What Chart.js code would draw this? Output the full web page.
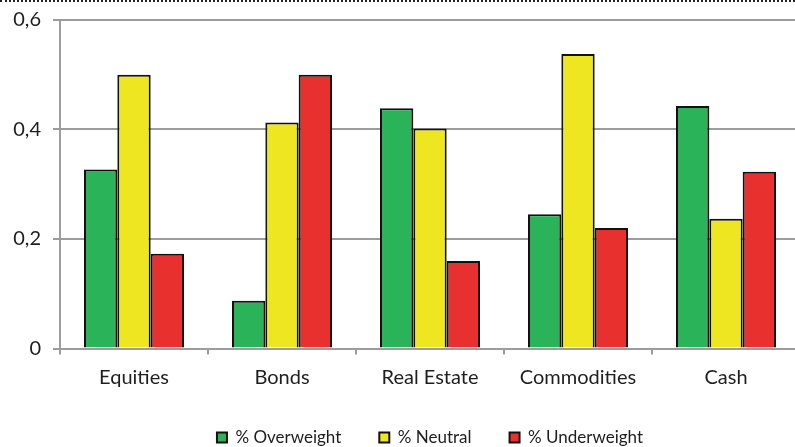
<!DOCTYPE html>
<html>
<head>
<meta charset="utf-8">
<script src="https://cdn.jsdelivr.net/npm/chart.js@4"></script>
<style>
  html, body { margin: 0; padding: 0; background: #fff; }
  .wrap { position: relative; width: 795px; height: 447px; overflow: hidden; }
  .dots { position: absolute; left: 0; top: 0; width: 795px; border-top: 2px dotted #222; }
  .box { position: absolute; left: 0; top: 0; width: 800px; height: 447px; }
</style>
</head>
<body>
<div class="wrap">
  <div class="box"><canvas id="grafico" width="800" height="447"></canvas></div>
  <div class="dots"></div>
</div>
<script>
const categorias = ['Equities', 'Bonds', 'Real Estate', 'Commodities', 'Cash'];
const overweight = [0.327, 0.087, 0.439, 0.245, 0.443];
const neutral = [0.500, 0.413, 0.402, 0.538, 0.237];
const underweight = [0.173, 0.500, 0.160, 0.220, 0.323];
const yTicks = [0, 0.2, 0.4, 0.6];
const yTickLabels = ['0', '0,2', '0,4', '0,6'];

const cores = {
    verde: '#2bb35a',
    amarelo: '#eee621',
    vermelho: '#e8302f',
    grade: '#9c9c9c',
    texto: '#1e1e1e'
};

Chart.defaults.font.family = 'Lato, "Open Sans", sans-serif';
Chart.defaults.color = cores.texto;

const serie = (label, data, cor) => ({
    label: label,
    data: data,
    backgroundColor: cor,
    borderColor: '#111',
    borderWidth: 2,
    borderSkipped: 'bottom',
    categoryPercentage: 0.676,
    barPercentage: 1.0
});

new Chart(document.getElementById('grafico'), {
    type: 'bar',
    data: {
        labels: categorias,
        datasets: [
            serie('% Overweight', overweight, cores.verde),
            serie('% Neutral', neutral, cores.amarelo),
            serie('% Underweight', underweight, cores.vermelho)
        ]
    },
    options: {
        responsive: false,
        animation: false,
        devicePixelRatio: 1,
        layout: { padding: { top: 20, right: 0, bottom: -9, left: 0 } },
        scales: {
            x: {
                afterFit: (scale) => { scale.height = 42.5; },
                grid: { display: true, drawOnChartArea: false, drawTicks: true, tickLength: 6, color: cores.grade, lineWidth: 2, offset: true },
                border: { display: true, color: cores.grade, width: 2 },
                ticks: { font: { size: 20 }, padding: 11, maxRotation: 0 }
            },
            y: {
                min: 0,
                max: 0.6,
                afterBuildTicks: (scale) => { scale.ticks = yTicks.map(v => ({ value: v })); },
                afterFit: (scale) => {
                    scale.width = 60;
                    scale.paddingTop = 0;
                    scale.paddingBottom = 0;
                },
                grid: { color: cores.grade, lineWidth: 2, tickLength: 7 },
                border: { display: true, color: cores.grade, width: 2 },
                ticks: {
                    font: { size: 20 },
                    padding: 12,
                    callback: (v, i) => yTickLabels[i]
                }
            }
        },
        plugins: {
            legend: {
                position: 'bottom',
                fullSize: false,
                labels: { boxWidth: 10, boxHeight: 10, padding: 38, font: { size: 17 } }
            },
            tooltip: { enabled: false }
        }
    }
});
</script>
</body>
</html>
